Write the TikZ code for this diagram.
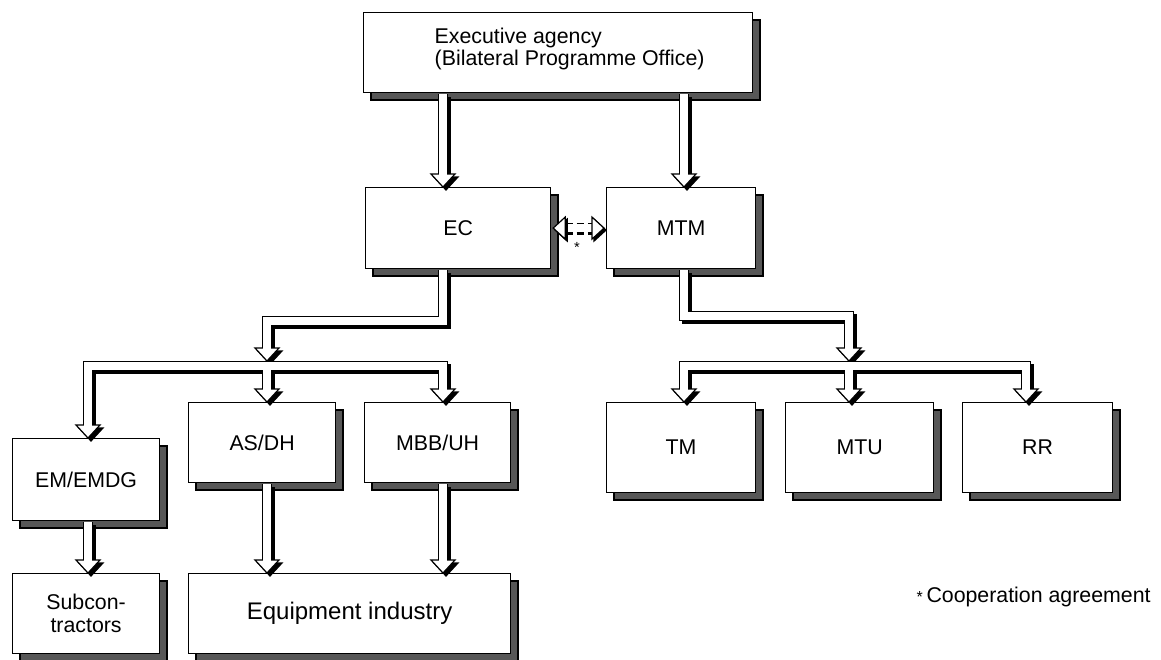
\documentclass[tikz,border=0pt]{standalone}
\usepackage{fontspec}
\setmainfont{Liberation Sans}
\usetikzlibrary{calc}
\newcommand\mkbox[6]{%
  \filldraw[boxshade] (#2+8,#3+8) rectangle (#4+8,#5+8);
  \node[box,minimum width={(#4-#2)*0.75pt},minimum height={(#5-#3)*0.75pt}] (#1) at (#2,#3) {#6};
}
\newcommand\hd[2]{\filldraw[#1] (#2) -- ++(-12,-13) -- ++(24,0) -- cycle;}
\newcommand\allpipes[2]{%
  \draw[#1] ($(exec.south -| ecT)+(0,1)$) -- ($(ecT)+(0,#2)$);
  \draw[#1] ($(exec.south -| mtT)+(0,1)$) -- ($(mtT)+(0,#2)$);
  \draw[#1] ($(ecB)+(0,1)$) -- ($(ecB)+(0,52)$) -| ($(brL)+(0,#2)$);
  \draw[#1] ($(mtB)+(0,1)$) -- ($(mtB)+(0,47)$) -| ($(brR)+(0,#2)$);
  \draw[#1] ($(emT)+(0,#2)$) |- (barL) -| ($(mbT)+(0,#2)$);
  \draw[#1] (barL) -- ($(asT)+(0,#2)$);
  \draw[#1] ($(tmT)+(0,#2)$) |- (barR) -| ($(rrT)+(0,#2)$);
  \draw[#1] (barR) -- ($(muT)+(0,#2)$);
  \draw[#1] ($(emB)+(0,1)$) -- ($(subT)+(0,#2)$);
  \draw[#1] ($(asB)+(0,1)$) -- ($(eqA)+(0,#2)$);
  \draw[#1] ($(mbB)+(0,1)$) -- ($(eqB)+(0,#2)$);
}
\begin{document}
\begin{tikzpicture}[x=0.75pt,y=-0.75pt,
  box/.style={draw=black,line width=0.9pt,fill=white,inner sep=0pt,anchor=north west,align=center,font=\fontsize{16}{17}\selectfont},
  boxshade/.style={fill=black!66,draw=black,line width=0.8pt},
  outer/.style={draw=black,line width=7.5pt,line join=miter,line cap=butt},
  inner/.style={draw=white,line width=5.7pt,line join=miter,line cap=butt},
  headst/.style={fill=white,draw=black,line width=0.9pt,line join=miter},
  headsh/.style={fill=black,draw=black,line width=0.9pt,line join=miter},
  lbl/.style={font=\fontsize{16}{16}\selectfont},
]
\useasboundingbox[fill=white] (0,0) rectangle (1161,660);

% boxes
\mkbox{exec}{363}{12}{752}{92}{}
\node[lbl,anchor=west,align=left] (exectext) at (430,49) {Executive agency\\(Bilateral Programme Office)};
\mkbox{ec}{365}{187}{550}{268}{EC}
\mkbox{mtm}{606}{187}{755}{268}{MTM}
\mkbox{em}{12}{438}{159}{520}{EM/EMDG}
\mkbox{sub}{12}{573}{159}{653}{Subcon-\\tractors}
\mkbox{as}{188}{402}{335}{482}{AS/DH}
\mkbox{mb}{364}{402}{510}{482}{MBB/UH}
\mkbox{eq}{188}{573}{510}{653}{\fontsize{18}{20}\selectfont Equipment industry}
\mkbox{tm}{606}{402}{755}{492}{TM}
\mkbox{mu}{785}{402}{933}{492}{MTU}
\mkbox{rr}{962}{402}{1112}{492}{RR}

% connector points on the boxes
\coordinate (ecT) at ($(ec.north west)+(78,0)$);
\coordinate (ecB) at ($(ec.south west)+(78,0)$);
\coordinate (mtT) at ($(mtm.north west)+(78,0)$);
\coordinate (mtB) at ($(mtm.south west)+(78,0)$);
\coordinate (emT) at ($(em.north west)+(76,0)$);
\coordinate (emB) at ($(em.south west)+(76,0)$);
\coordinate (subT) at (emB |- sub.north);
\coordinate (asT) at ($(as.north west)+(79,0)$);
\coordinate (asB) at ($(as.south west)+(79,0)$);
\coordinate (eqA) at (asB |- eq.north);
\coordinate (mbT) at ($(mb.north west)+(79,0)$);
\coordinate (mbB) at ($(mb.south west)+(79,0)$);
\coordinate (eqB) at (mbB |- eq.north);
\coordinate (tmT) at ($(tm.north west)+(78,0)$);
\coordinate (muT) at ($(mu.north west)+(64,0)$);
\coordinate (rrT) at ($(rr.north west)+(64,0)$);
\coordinate (barL) at ($(asT)+(0,-36)$);
\coordinate (barR) at ($(muT)+(0,-36)$);
\coordinate (brL) at ($(asT)+(0,-41)$);
\coordinate (brR) at ($(muT)+(0,-41)$);

% shadows of the hollow arrows
\begin{scope}[transform canvas={xshift=2.25pt,yshift=-2.25pt}]
  \allpipes{outer}{-13}
  \foreach \c in {ecT,mtT,emT,asT,mbT,tmT,muT,rrT,subT,eqA,eqB,brL,brR} {\hd{headsh}{\c}}
\end{scope}
\allpipes{outer}{-13}
\foreach \c in {ecT,mtT,emT,asT,mbT,tmT,muT,rrT,subT,eqA,eqB,brL,brR} {\hd{headst}{\c}}
\allpipes{inner}{-11}

% dashed double arrow (cooperation agreement)
\coordinate (dL) at ($(ec.east)+(2,0)$);
\coordinate (dR) at ($(mtm.west)+(-2,0)$);
\begin{scope}[transform canvas={xshift=1.5pt,yshift=-1.5pt}]
  \filldraw[headsh] (dL) -- ++(12,-11) -- ++(0,22) -- cycle;
  \filldraw[headsh] (dR) -- ++(-12,-11) -- ++(0,22) -- cycle;
\end{scope}
\filldraw[headst] (dL) -- ++(12,-11) -- ++(0,22) -- cycle;
\filldraw[headst] (dR) -- ++(-12,-11) -- ++(0,22) -- cycle;
\draw[line width=0.9pt,dash pattern=on 5.5pt off 3pt] ($(dL)+(12,-5)$) -- ($(dR)+(-12,-5)$);
\draw[line width=2.6pt,dash pattern=on 5.5pt off 3pt] ($(dL)+(12,5.5)$) -- ($(dR)+(-12,5.5)$);
\node[font=\fontsize{11}{11}\selectfont] (star) at (577,247) {*};

\node[lbl,anchor=west] (coop) at (912,597) {{\fontsize{12}{12}\selectfont *}\,Cooperation agreement};
\end{tikzpicture}
\end{document}
